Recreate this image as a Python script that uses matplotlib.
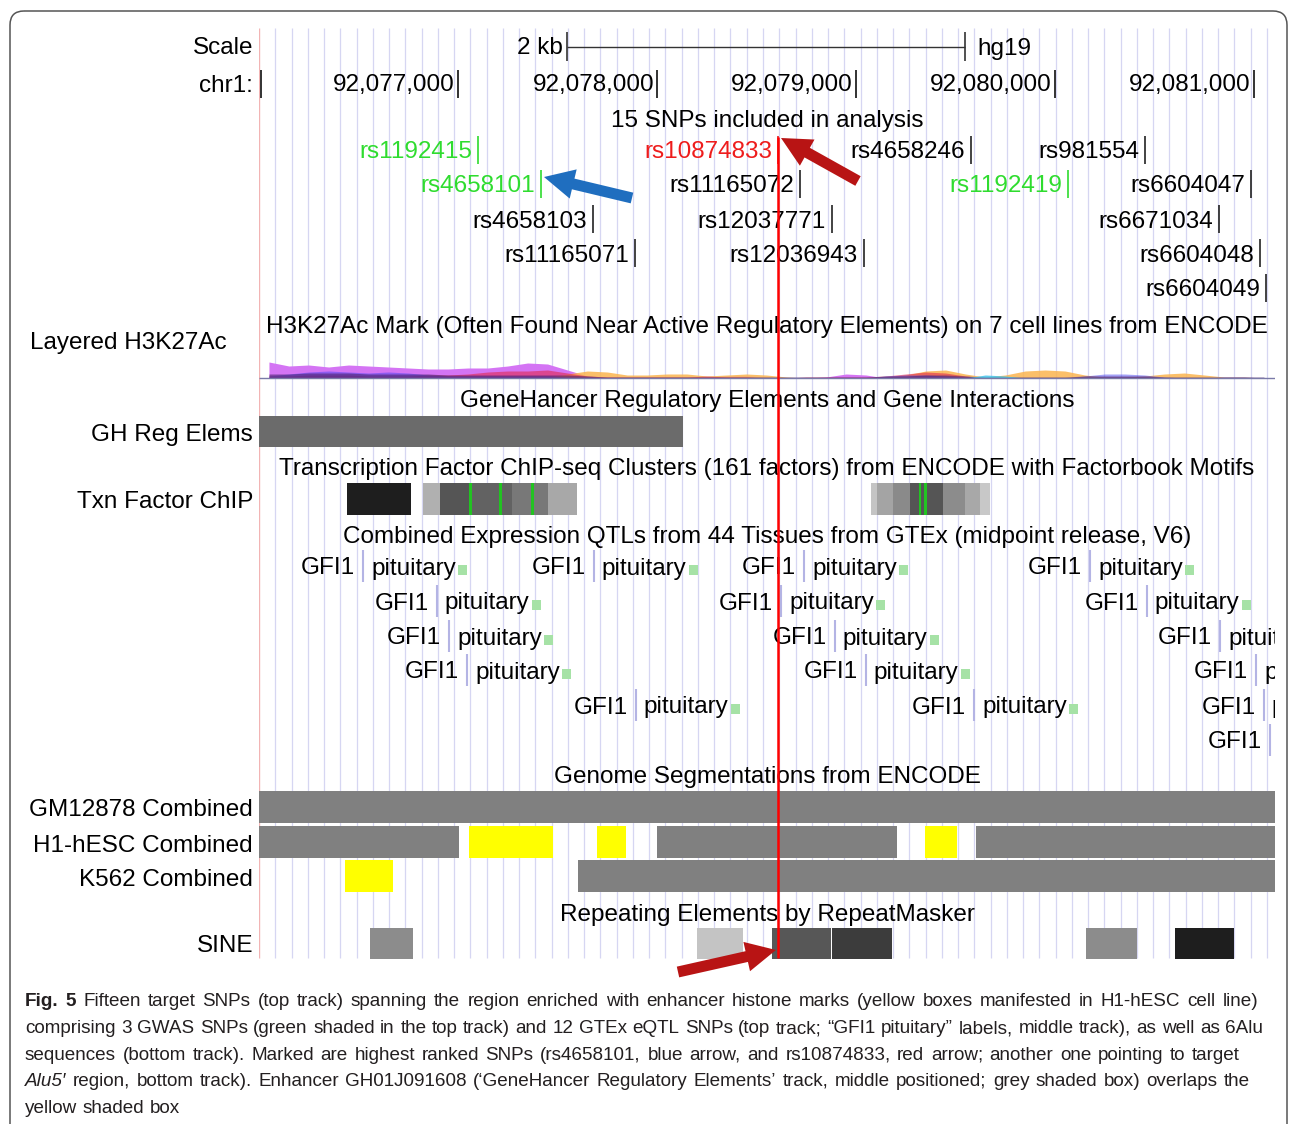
import matplotlib
matplotlib.use("Agg")
import matplotlib.pyplot as plt
from matplotlib import font_manager
from matplotlib.patches import Rectangle, FancyArrow, FancyBboxPatch

W, H = 1290, 1124
X0, X1 = 259, 1275          # left/right pixel edge of the browser image
START = 92076000            # chr1 position at the left edge
BP_PX = 1000 / 199.0        # bases per pixel
END = START + (X1 - X0) * BP_PX
TY = 2.5                    # small nudge so the text sits on the row centre


def tem_fonte(nome):
    try:
        font_manager.findfont(font_manager.FontProperties(family=nome), fallback_to_default=False)
        return True
    except ValueError:
        return False


FONTE = "Liberation Sans Narrow" if tem_fonte("Liberation Sans Narrow") else "Liberation Sans"
TAM = 21 if FONTE == "Liberation Sans Narrow" else 17.5
FAM = [FONTE, "DejaVu Sans"]

# ---------------- data ----------------
chr_ticks = [92077000, 92078000, 92079000, 92080000, 92081000]
scale_start = 92077548
scale_len = 2000

snp_names = ["rs1192415", "rs10874833", "rs4658246", "rs981554",
             "rs4658101", "rs11165072", "rs1192419", "rs6604047",
             "rs4658103", "rs12037771", "rs6671034",
             "rs11165071", "rs12036943", "rs6604048",
             "rs6604049"]
snp_pos = [92077100, 92078608, 92079578, 92080452,
           92077417, 92078719, 92080065, 92080985,
           92077678, 92078879, 92080824,
           92077889, 92079040, 92081030,
           92081060]
snp_row = [0, 0, 0, 0, 1, 1, 1, 1, 2, 2, 2, 3, 3, 3, 4]
snp_kind = ["gwas", "top", "eqtl", "eqtl",
            "gwas", "eqtl", "gwas", "eqtl",
            "eqtl", "eqtl", "eqtl",
            "eqtl", "eqtl", "eqtl",
            "eqtl"]

# H3K27Ac layered signal, 100 bp bins from START
h3_magenta = [16, 12, 13, 11, 13, 12, 11, 10, 9, 9, 10, 10, 12, 15, 14, 8, 2, 1, 0, 0, 0, 0, 1, 2, 2, 1,
              0, 0, 1, 4, 3, 0, 0, 1, 0, 0, 0, 0, 0, 0, 0, 0, 0, 0, 0, 0, 0, 0, 0, 0, 0]
h3_blue = [2, 4, 6, 7, 6, 5, 6, 5, 3, 2, 2, 2, 2, 2, 2, 1, 1, 0, 0, 0, 0, 0, 0, 0, 0, 0,
           0, 0, 0, 0, 0, 2, 3, 3, 2, 1, 0, 0, 0, 0, 0, 2, 4, 4, 3, 1, 0, 0, 1, 1, 0]
h3_red = [2, 2, 3, 3, 3, 2, 2, 2, 3, 3, 4, 6, 7, 7, 8, 5, 2, 1, 1, 1, 1, 1, 2, 1, 1, 0,
          0, 1, 1, 1, 1, 2, 4, 6, 5, 2, 0, 0, 0, 0, 0, 0, 1, 1, 1, 0, 0, 0, 0, 0, 0]
h3_orange = [0, 0, 0, 0, 0, 0, 0, 0, 0, 0, 0, 0, 0, 0, 0, 4, 7, 6, 3, 3, 4, 4, 2, 3, 4, 3,
             1, 0, 0, 0, 0, 1, 3, 7, 8, 4, 1, 3, 7, 8, 7, 3, 1, 1, 2, 4, 5, 3, 1, 1, 0]
h3_purple = [4, 4, 5, 5, 5, 4, 4, 4, 4, 3, 3, 3, 3, 3, 3, 3, 2, 1, 1, 1, 1, 1, 1, 1, 1, 1,
             1, 1, 1, 1, 1, 2, 2, 3, 3, 2, 1, 1, 1, 1, 1, 2, 2, 2, 2, 1, 1, 1, 1, 1, 1]
h3_cyan = [0, 0, 0, 0, 0, 0, 0, 0, 0, 0, 0, 0, 0, 0, 0, 0, 0, 0, 0, 0, 0, 0, 0, 0, 0, 0,
           0, 0, 0, 0, 0, 0, 0, 0, 0, 0, 3, 2, 0, 0, 0, 0, 0, 0, 0, 0, 0, 0, 0, 0, 0]

gh_start, gh_end = [92076000], [92078131]

# TF clusters: pieces of each cluster with their grey level
tf_start = [92076442, 92076824, 92076910, 92077070, 92077271, 92077452,
            92079074, 92079107, 92079184, 92079271, 92079436, 92079548, 92079623]
tf_end = [92076764, 92076910, 92077070, 92077271, 92077452, 92077598,
          92079107, 92079184, 92079271, 92079436, 92079548, 92079623, 92079673]
tf_grey = ["#1e1e1e", "#b0b0b0", "#555555", "#626262", "#787878", "#a8a8a8",
           "#c4c4c4", "#a4a4a4", "#8a8a8a", "#555555", "#8c8c8c", "#a8a8a8", "#c8c8c8"]
motif_pos = [92077055, 92077206, 92077367, 92079315, 92079342]

eqtl_pos = [92076523, 92077683, 92078739, 92080176,
            92076894, 92078623, 92080462,
            92076955, 92078894, 92080829,
            92077045, 92079050, 92081010,
            92077894, 92079593, 92081050,
            92081080]
eqtl_row = [0, 0, 0, 0, 1, 1, 1, 2, 2, 2, 3, 3, 3, 4, 4, 4, 5]
eqtl_gene = "GFI1"
eqtl_tissue = "pituitary"

seg_names = ["GM12878 Combined", "H1-hESC Combined", "K562 Combined"]
seg_start = [[92076000],
             [92076000, 92077055, 92077698, 92078000, 92079347, 92079603],
             [92076432, 92077603]]
seg_end = [[92081110],
           [92077005, 92077477, 92077844, 92079206, 92079507, 92081110],
           [92076673, 92081110]]
seg_state = [["grey"],
             ["grey", "enh", "enh", "grey", "enh", "grey"],
             ["enh", "grey"]]

sine_start = [92076558, 92078201, 92078578, 92078879, 92080156, 92080603]
sine_end = [92076774, 92078432, 92078874, 92079181, 92080412, 92080899]
sine_grey = ["#8c8c8c", "#c4c4c4", "#575757", "#3c3c3c", "#8c8c8c", "#1e1e1e"]

caption = [
    "Fig. 5 Fifteen target SNPs (top track) spanning the region enriched with enhancer histone marks (yellow boxes manifested in H1-hESC cell line)",
    "comprising 3 GWAS SNPs (green shaded in the top track) and 12 GTEx eQTL SNPs (top track; \u201cGFI1 pituitary\u201d labels, middle track), as well as 6Alu",
    "sequences (bottom track). Marked are highest ranked SNPs (rs4658101, blue arrow, and rs10874833, red arrow; another one pointing to target",
    "Alu5\u2032 region, bottom track). Enhancer GH01J091608 (\u2018GeneHancer Regulatory Elements\u2019 track, middle positioned; grey shaded box) overlaps the",
    "yellow shaded box",
]

# ---------------- figure ----------------
fig = plt.figure(figsize=(W / 100, H / 100), dpi=100)
fig.patch.set_facecolor("white")

ax = fig.add_axes([X0 / W, 0, (X1 - X0) / W, 1])
ax.set_xlim(START, END)
ax.set_ylim(H, 0)
ax.axis("off")

ov = fig.add_axes([0, 0, 1, 1], zorder=5)  # pixel overlay: labels, arrows, caption
ov.set_xlim(0, W)
ov.set_ylim(H, 0)
ov.axis("off")
ov.patch.set_visible(False)

TOP, BOT = 28, 958
# guide lines
g = START + 81.7
while g < END:
    ax.vlines(g, TOP, BOT, color="#d6d6f2", lw=0.9, zorder=0)
    g += 81.7
ax.vlines(START + 1, TOP, BOT, color="#f2b4b4", lw=1.0, zorder=0)

txt = dict(family=FAM, fontsize=TAM, color="black")


def left_label(s, y, right=253):
    ov.text(right, y + TY, s, ha="right", va="center", **txt)


def title(s, y):
    ax.text((START + END) / 2, y + TY, s, ha="center", va="center", **txt)


# scale + chromosome ruler
left_label("Scale", 46)
ax.text(scale_start - 4 * BP_PX, 46 + TY, "2 kb", ha="right", va="center", **txt)
ax.hlines(47, scale_start, scale_start + scale_len, color="#333333", lw=1.0)
ax.vlines([scale_start, scale_start + scale_len], 32, 61, color="#333333", lw=1.2)
ax.text(scale_start + scale_len + 12 * BP_PX, 46 + TY, "hg19", ha="left", va="center", **txt)

left_label("chr1:", 83)
ax.vlines([START + 2 * BP_PX] + chr_ticks, 70, 98, color="#222222", lw=1.3)
for t in chr_ticks:
    ax.text(t - 3 * BP_PX, 83 + TY, f"{t:,}", ha="right", va="center", **txt)

# SNP track
title("15 SNPs included in analysis", 118)
snp_y = [150, 184, 219, 253, 288]
kind_col = {"gwas": "#2fdc2f", "top": "#ee1c1c", "eqtl": "black"}
for name, p, r, k in zip(snp_names, snp_pos, snp_row, snp_kind):
    y = snp_y[r]
    c = kind_col[k]
    ax.vlines(p, y - 14, y + 14, color=c if k != "eqtl" else "#222222", lw=1.2)
    ax.text(p - 6 * BP_PX, y + TY, name, ha="right", va="center", family=FAM, fontsize=TAM, color=c)

# H3K27Ac
ov.text(227, 341 + TY, "Layered H3K27Ac", ha="right", va="center", **txt)
title("H3K27Ac Mark (Often Found Near Active Regulatory Elements) on 7 cell lines from ENCODE", 324)
BASE = 378
h3_x = [START + 100 * i + 50 for i in range(len(h3_magenta))]
layers = [(h3_magenta, "#d474f4", 1.0), (h3_orange, "#fbb44f", 0.85), (h3_red, "#e0284e", 0.6),
          (h3_blue, "#4a44ee", 0.5), (h3_purple, "#4c2470", 0.6), (h3_cyan, "#38c0ea", 0.8)]
for vals, col, a in layers:
    ax.fill_between(h3_x, BASE, [BASE - v for v in vals], color=col, alpha=a, lw=0)
ax.hlines(BASE, START, END, color="#7a7aa8", lw=1.0)

# GeneHancer
title("GeneHancer Regulatory Elements and Gene Interactions", 398)
left_label("GH Reg Elems", 432)
for s, e in zip(gh_start, gh_end):
    ax.add_patch(Rectangle((s, 416), e - s, 31, color="#6b6b6b", lw=0))

# TF ChIP clusters
title("Transcription Factor ChIP-seq Clusters (161 factors) from ENCODE with Factorbook Motifs", 466)
left_label("Txn Factor ChIP", 499)
for s, e, c in zip(tf_start, tf_end, tf_grey):
    ax.add_patch(Rectangle((s, 483), e - s, 32, color=c, lw=0))
for m in motif_pos:
    ax.add_patch(Rectangle((m, 483), 13, 32, color="#22c322", lw=0))

# GTEx eQTLs
title("Combined Expression QTLs from 44 Tissues from GTEx (midpoint release, V6)", 534)
eqtl_y = [566, 601, 636, 670, 705, 740]
tissue_txt = []
for p, r in zip(eqtl_pos, eqtl_row):
    y = eqtl_y[r]
    ax.vlines(p, y - 16, y + 16, color="#b4b4e4", lw=1.5)
    ax.text(p - 8 * BP_PX, y + TY, eqtl_gene, ha="right", va="center", clip_on=True, **txt)
    t = ax.text(p + 8 * BP_PX, y + TY, eqtl_tissue, ha="left", va="center", clip_on=True, **txt)
    tissue_txt.append((t, y))

# the little tissue swatch after each tissue name
fig.canvas.draw()
rend = fig.canvas.get_renderer()
inv = ax.transData.inverted()
for t, y in tissue_txt:
    bb = t.get_window_extent(rend)
    x_end = inv.transform((bb.x1, 0))[0]
    ax.add_patch(Rectangle((x_end + 2 * BP_PX, y - 1), 9 * BP_PX, 10,
                           color="#a6e2a6", lw=0, clip_on=True))

# genome segmentations
title("Genome Segmentations from ENCODE", 775)
seg_top = [791, 826, 860]
state_col = {"grey": "#808080", "enh": "#ffff00"}
for name, ss, ee, st, y0 in zip(seg_names, seg_start, seg_end, seg_state, seg_top):
    left_label(name, y0 + 17)
    for s, e, k in zip(ss, ee, st):
        ax.add_patch(Rectangle((s, y0), e - s, 32, color=state_col[k], lw=0))

# RepeatMasker
title("Repeating Elements by RepeatMasker", 912)
left_label("SINE", 944)
for s, e, c in zip(sine_start, sine_end, sine_grey):
    ax.add_patch(Rectangle((s, 928), e - s, 31, color=c, lw=0))

# highlight of rs10874833
ax.vlines(snp_pos[1], 137, BOT, color="#ff0000", lw=1.8, zorder=4)

# arrows
ov.add_patch(FancyArrow(858, 181, -77, -43, width=11, head_width=30, head_length=30,
                        length_includes_head=True, color="#b81414", lw=0))
ov.add_patch(FancyArrow(632, 198, -88, -21, width=11, head_width=30, head_length=30,
                        length_includes_head=True, color="#1f6ebf", lw=0))
ov.add_patch(FancyArrow(678, 972, 98, -22, width=11, head_width=30, head_length=30,
                        length_includes_head=True, color="#b81414", lw=0))

# frame of the figure panel
ov.add_patch(FancyBboxPatch((10, 11), 1277, 1140, boxstyle="round,pad=0,rounding_size=14",
                            fill=False, ec="#555555", lw=1.1))

# caption: one font size, lines spread word by word to their right edge
cap_fam = [FONTE, "DejaVu Sans"]
cap_col = "#231f20"
cap_base = [1006, 1033, 1060, 1086, 1113]   # baselines
cap_right = [1258, 1263, 1240, 1250, None]
CX = 25


def style_of(i, j):
    if i == 0 and j < 2:
        return dict(weight="bold")
    if i == 3 and j == 0:
        return dict(style="italic")
    return {}


def width_of(s, size, **kw):
    t = ov.text(0, 0, s, family=cap_fam, fontsize=size, **kw)
    w = t.get_window_extent(rend).width
    t.remove()
    return w


cap_size = min(10 * (r - CX) / width_of(line, 10) for line, r in zip(caption, cap_right) if r)
space = width_of("a a", cap_size) - 2 * width_of("a", cap_size)
for i, line in enumerate(caption):
    words = line.split(" ")
    ws = [width_of(w, cap_size, **style_of(i, j)) for j, w in enumerate(words)]
    if cap_right[i]:
        gap = (cap_right[i] - CX - sum(ws)) / (len(words) - 1)
    else:
        gap = space
    x = CX
    for j, w in enumerate(words):
        ov.text(x, cap_base[i], w, family=cap_fam, fontsize=cap_size, color=cap_col,
                va="baseline", ha="left", **style_of(i, j))
        x += ws[j] + gap

fig.savefig("out.png", dpi=100)
